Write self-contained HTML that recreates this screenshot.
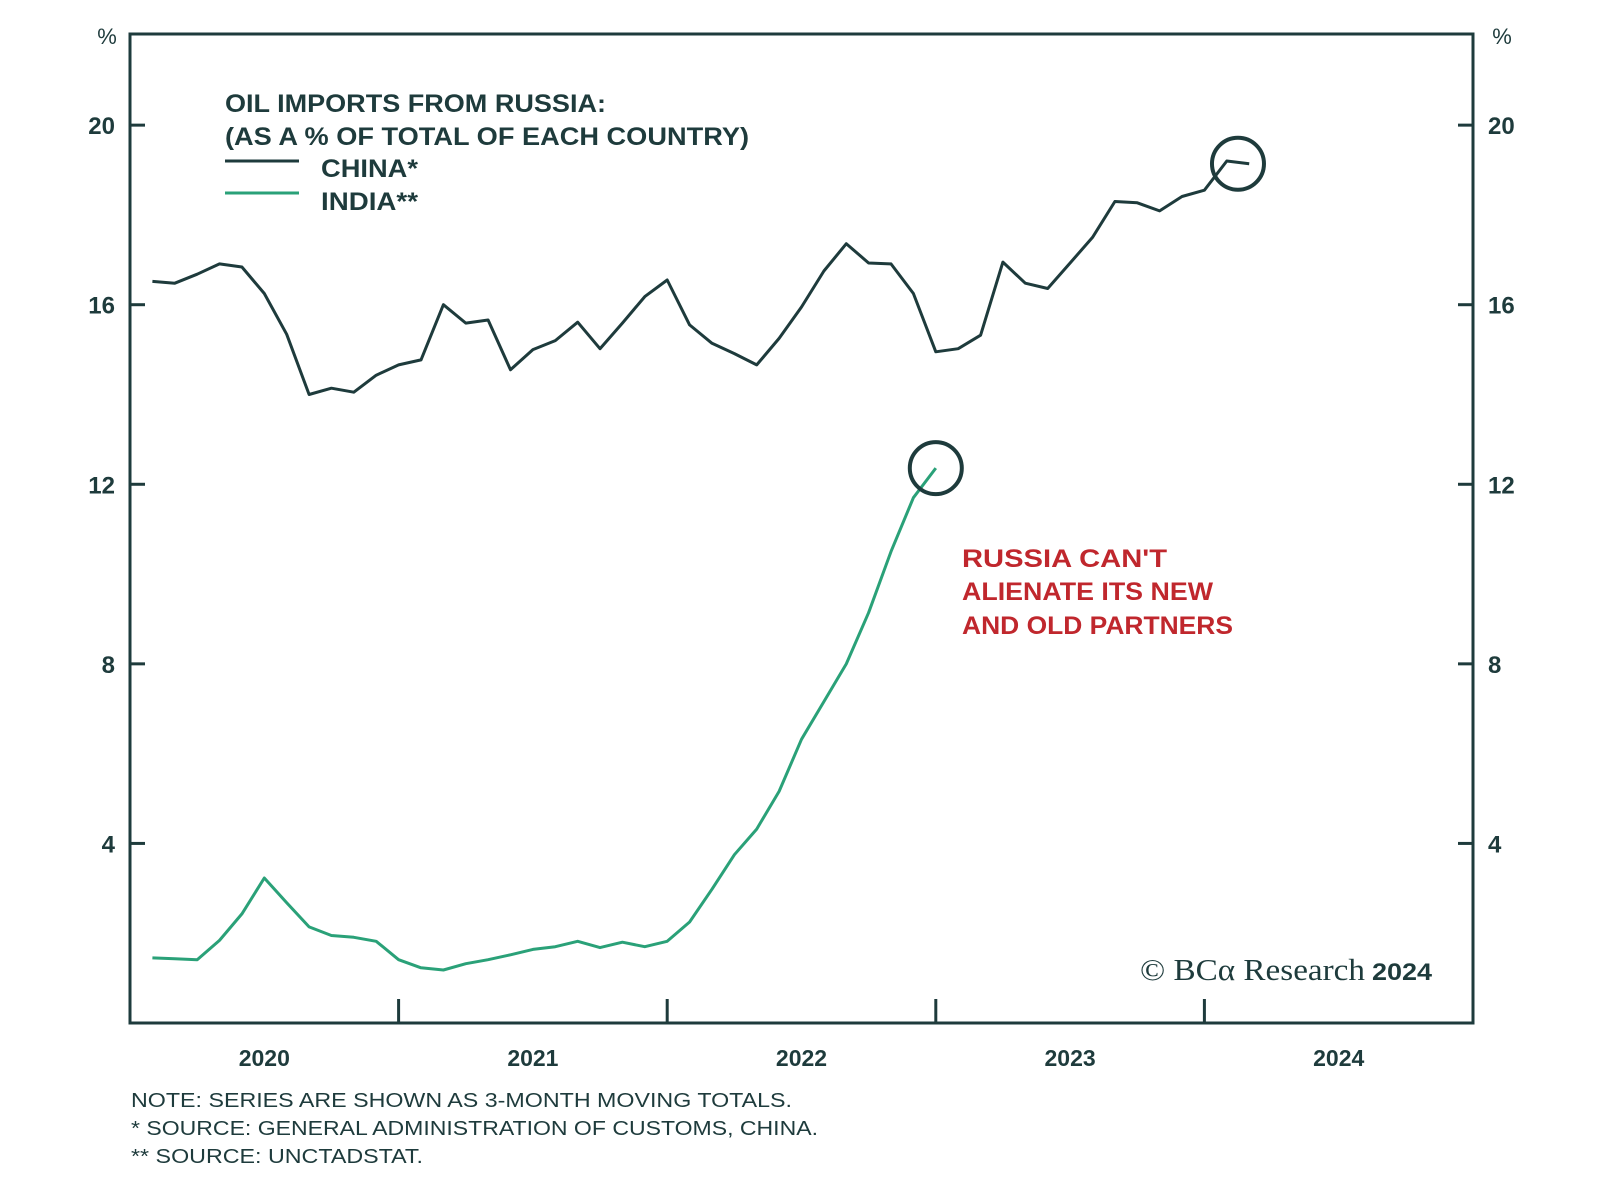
<!DOCTYPE html>
<html><head><meta charset="utf-8"><style>
html,body{margin:0;padding:0;background:#fff;}
svg{display:block;font-family:"Liberation Sans",sans-serif;}
</style></head><body>
<svg id="chart" width="1600" height="1196" viewBox="0 0 1600 1196" xmlns="http://www.w3.org/2000/svg">
<g id="frame"></g>
<g id="axes"></g>
<g id="series"></g>
<g fill="#1e3b3c" font-size="25" font-weight="bold">
  <text x="225" y="112" textLength="381" lengthAdjust="spacingAndGlyphs">OIL IMPORTS FROM RUSSIA:</text>
  <text x="225" y="145" textLength="524" lengthAdjust="spacingAndGlyphs">(AS A % OF TOTAL OF EACH COUNTRY)</text>
  <line x1="225" y1="161" x2="299" y2="161" stroke="#1e3b3c" stroke-width="3"/>
  <text x="321" y="177" textLength="97" lengthAdjust="spacingAndGlyphs">CHINA*</text>
  <line x1="225" y1="193" x2="299" y2="193" stroke="#2aa178" stroke-width="3"/>
  <text x="321" y="210" textLength="97" lengthAdjust="spacingAndGlyphs">INDIA**</text>
</g>
<g fill="#c0272d" font-size="25" font-weight="bold">
  <text x="962" y="567" textLength="205" lengthAdjust="spacingAndGlyphs">RUSSIA CAN'T</text>
  <text x="962" y="600" textLength="251" lengthAdjust="spacingAndGlyphs">ALIENATE ITS NEW</text>
  <text x="962" y="634" textLength="271" lengthAdjust="spacingAndGlyphs">AND OLD PARTNERS</text>
</g>
<g fill="#1e3b3c">
  <text x="1140" y="980" font-family="Liberation Serif, serif" font-size="31" textLength="225" lengthAdjust="spacingAndGlyphs">© BCα Research</text>
  <text x="1372" y="980" font-size="24" font-weight="bold" textLength="60" lengthAdjust="spacingAndGlyphs">2024</text>
</g>
<g fill="#1e3b3c" font-size="20">
  <text x="131" y="1107" textLength="661" lengthAdjust="spacingAndGlyphs">NOTE: SERIES ARE SHOWN AS 3-MONTH MOVING TOTALS.</text>
  <text x="131" y="1135" textLength="687" lengthAdjust="spacingAndGlyphs">* SOURCE: GENERAL ADMINISTRATION OF CUSTOMS, CHINA.</text>
  <text x="131" y="1163" textLength="292" lengthAdjust="spacingAndGlyphs">** SOURCE: UNCTADSTAT.</text>
</g>
</svg>
<script>
const chinaValues=[16.52,16.48,16.68,16.91,16.84,16.25,15.34,14.0,14.14,14.05,14.43,14.66,14.77,16.0,15.59,15.66,14.55,15.0,15.2,15.61,15.02,15.59,16.18,16.55,15.55,15.14,14.91,14.66,15.25,15.95,16.75,17.36,16.93,16.91,16.25,14.95,15.02,15.32,16.95,16.48,16.36,16.93,17.5,18.3,18.27,18.09,18.41,18.55,19.2,19.14];
const indiaValues=[1.45,1.43,1.41,1.84,2.43,3.23,2.68,2.14,1.95,1.91,1.82,1.41,1.23,1.18,1.32,1.41,1.52,1.64,1.70,1.82,1.68,1.80,1.70,1.82,2.25,2.98,3.75,4.32,5.16,6.32,7.16,8.0,9.14,10.5,11.7,12.36];
const yTicks=[4,8,12,16,20];
const yearLabels=["2020","2021","2022","2023","2024"];
const startMonthOffset=1; // first point = Feb 2020

const NS="http://www.w3.org/2000/svg";
const L=130,R=1473,T=34,B=1023,YMAX=22.03;
const monthW=(R-L)/60;
function xm(i){return L+(i+startMonthOffset)*monthW;}
function y(v){return B-(v/YMAX)*(B-T);}
function mk(tag,attrs,parent){const e=document.createElementNS(NS,tag);for(const k in attrs)e.setAttribute(k,attrs[k]);parent.appendChild(e);return e;}
const ink="#1e3b3c";
const frame=document.getElementById('frame');
const fr=mk('rect',{x:L,y:T,width:R-L,height:B-T,fill:'none',stroke:ink,'stroke-width':3},frame);


const axes=document.getElementById('axes');
yTicks.forEach(v=>{
  const t1=mk('line',{x1:L,x2:L+15,y1:y(v),y2:y(v),stroke:ink,'stroke-width':3},axes);
  
  
  const t2=mk('line',{x1:R-15,x2:R,y1:y(v),y2:y(v),stroke:ink,'stroke-width':3},axes);
  
  
  const a=mk('text',{x:115,y:y(v)+9,'text-anchor':'end','font-size':24,'font-weight':'bold',fill:ink},axes);a.textContent=v;
  
  
  const b=mk('text',{x:1488,y:y(v)+9,'font-size':24,'font-weight':'bold',fill:ink},axes);b.textContent=v;
  
  
});
[[107,'left-unit'],[1502,'right-unit']].forEach(([x,n])=>{
  const p=mk('text',{x:x,y:44,'text-anchor':'middle','font-size':22,fill:ink},axes);p.textContent='%';
  
  
});
yearLabels.forEach((lab,i)=>{
  if(i>0){const tk=mk('line',{x1:L+i*12*monthW,x2:L+i*12*monthW,y1:B,y2:B-24,stroke:ink,'stroke-width':3},axes);
    
    }
  const t=mk('text',{x:L+(i*12+6)*monthW,y:1066,'text-anchor':'middle','font-size':23,'font-weight':'bold',fill:ink},axes);t.textContent=lab;
  
  
});
const series=document.getElementById('series');
function line(vals,color,name){
  const d=vals.map((v,i)=>(i?'L':'M')+xm(i).toFixed(1)+','+y(v).toFixed(1)).join(' ');
  const p=mk('path',{d:d,fill:'none',stroke:color,'stroke-width':3,'stroke-linejoin':'round'},series);
  
  
}
line(indiaValues,'#2aa178','india-line');
line(chinaValues,ink,'china-line');
const ci=chinaValues.length-1, ii=indiaValues.length-1;
const c1=mk('circle',{cx:xm(ci-0.5),cy:y(chinaValues[ci]),r:26,fill:'none',stroke:ink,'stroke-width':4},series);


const c2=mk('circle',{cx:xm(ii),cy:y(indiaValues[ii]),r:26,fill:'none',stroke:ink,'stroke-width':4},series);


</script>
</body></html>
